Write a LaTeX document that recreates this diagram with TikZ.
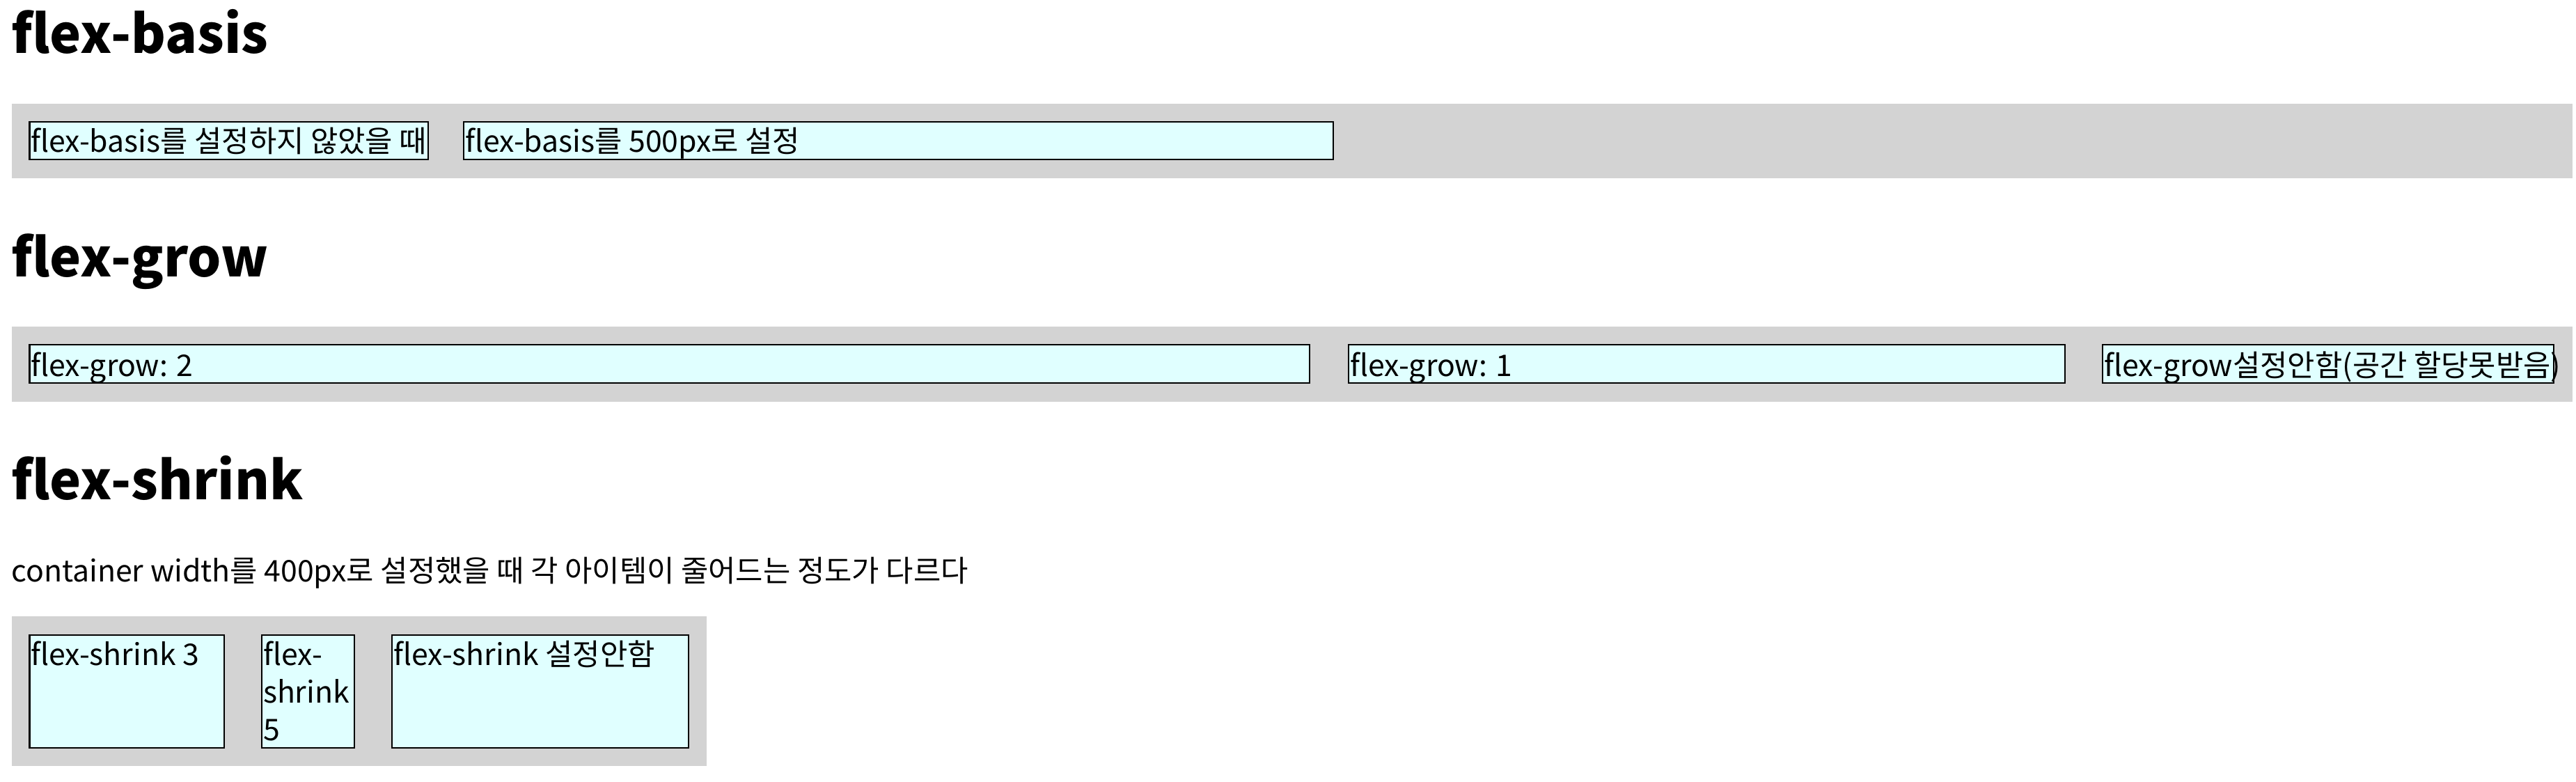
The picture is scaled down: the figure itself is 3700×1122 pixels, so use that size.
\documentclass[tikz,border=0pt]{standalone}
\usepackage{fontspec}
\setmainfont{Noto Sans CJK KR}
\usetikzlibrary{fit}
\definecolor{bargray}{HTML}{D3D3D3}
\definecolor{itemcyan}{HTML}{E0FFFF}
\tikzset{
  bar/.style={fill=bargray, draw=none, inner sep=0pt, outer sep=0pt},
  item/.style={fill=itemcyan, draw=black, line width=0.42pt, inner sep=0pt, outer sep=0pt},
  txt/.style={anchor=base west, inner sep=0pt, outer sep=0pt, font=\fontsize{8.55}{10.8}\selectfont},
  head/.style={anchor=base west, inner sep=0pt, outer sep=0pt, font=\fontsize{15.2}{20}\selectfont\bfseries},
}
\begin{document}
\begin{tikzpicture}[x=0.2pt, y=-0.2pt]
\useasboundingbox[fill=white] (0,0) rectangle (3700,1122);

% flex-basis
\node[head] (h1) at (16.5,76) {flex-basis};
\node[bar, fit={(16.5,149) (3695,256)}] (bar1) {};
\node[item, fit={(42.5,175) (615,229)}] (b1) {};
\node[item, fit={(666,175) (1915,229)}] (b2) {};
\node[txt] (t1) at (44,218) {flex-basis를 설정하지 않았을 때};
\node[txt] (t2) at (668,218) {flex-basis를 500px로 설정};

% flex-grow
\node[head] (h2) at (16.5,397) {flex-grow};
\node[bar, fit={(16.5,469) (3695,577)}] (bar2) {};
\node[item, fit={(42.5,495) (1881,550)}] (g2) {};
\node[item, fit={(1937,495) (2966,550)}] (g1) {};
\node[item, fit={(3020,495) (3668,550)}] (g0) {};
\node[txt] (tg2) at (44,540) {flex-grow: 2};
\node[txt] (tg1) at (1939,540) {flex-grow: 1};
\node[txt] (tg0) at (3022,540) {flex-grow설정안함(공간 할당못받음)};

% flex-shrink
\node[head] (h3) at (16.5,717) {flex-shrink};
\node[txt] (p) at (16.5,835) {container width를 400px로 설정했을 때 각 아이템이 줄어드는 정도가 다르다};
\node[bar, fit={(16.5,885) (1015,1100)}] (bar3) {};
\node[item, fit={(42.5,912) (322,1074)}] (s3) {};
\node[item, fit={(376,912) (509,1074)}] (s5) {};
\node[item, fit={(563,912) (989,1074)}] (s0) {};
\node[txt] (ts3) at (44,955) {flex-shrink 3};
\node[txt] (ts5a) at (378,955) {flex-};
\node[txt] (ts5b) at (378,1009) {shrink};
\node[txt] (ts5c) at (378,1063) {5};
\node[txt] (ts0) at (565,955) {flex-shrink 설정안함};
\end{tikzpicture}
\end{document}
